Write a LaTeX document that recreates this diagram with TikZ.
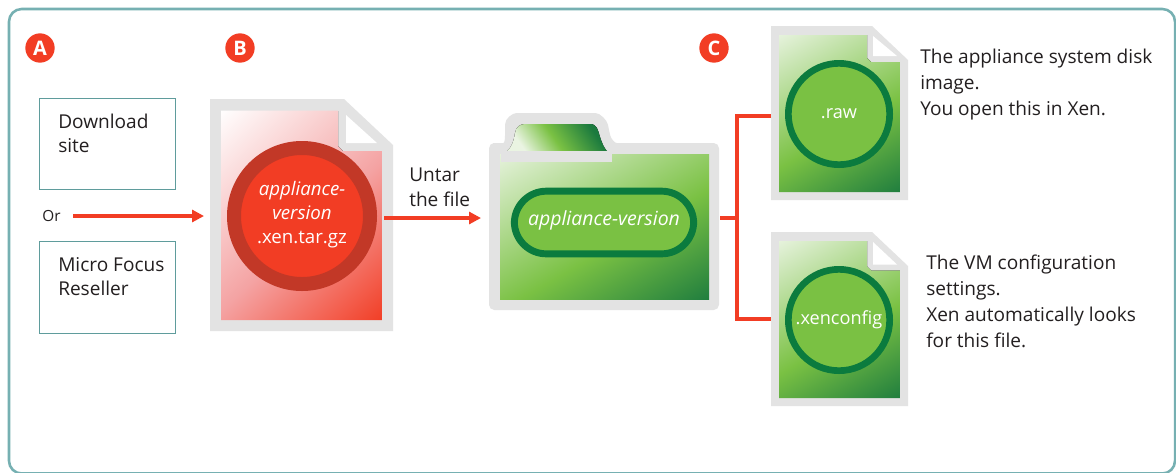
\documentclass[tikz,border=0pt]{standalone}
\usepackage{fontspec}
\setmainfont{Open Sans}
\usetikzlibrary{arrows.meta}
\definecolor{frameT}{HTML}{76B0B2}
\definecolor{boxT}{HTML}{5F9C9C}
\definecolor{redA}{HTML}{F23D24}
\definecolor{redR}{HTML}{C23827}
\definecolor{grayF}{HTML}{E3E3E3}
\definecolor{greenM}{HTML}{7AC143}
\definecolor{greenD}{HTML}{1B7A3E}
\definecolor{greenR}{HTML}{0B7B3E}
\definecolor{greenL}{HTML}{EAF4E2}
\definecolor{pinkM}{HTML}{F4A3A3}
\definecolor{txt}{HTML}{231F20}
\pgfdeclareverticalshading{gshade}{100bp}{color(0bp)=(greenD);color(14bp)=(greenD);color(44bp)=(greenM);color(86bp)=(greenL);color(100bp)=(greenL)}
\pgfdeclareverticalshading{tabshade}{100bp}{color(0bp)=(greenD);color(26bp)=(greenD);color(52bp)=(greenM);color(74bp)=(greenL);color(100bp)=(greenL)}
\pgfdeclareverticalshading{rshade}{100bp}{color(0bp)=(redA);color(14bp)=(redA);color(46bp)=(pinkM);color(86bp)=(white);color(100bp)=(white)}
\tikzset{
  x=0.75pt,y=-0.75pt,
  badge/.style={circle,fill=redA,text=white,inner sep=0pt,minimum size=22pt,font=\fontsize{15}{16}\selectfont\bfseries},
  srcbox/.style={draw=boxT,line width=0.9pt,fill=white,minimum width=102pt,minimum height=68.5pt,inner sep=0pt},
  body/.style={text=txt,align=left,font=\fontsize{14.3}{19.4}\selectfont,inner sep=0pt},
  bodyt/.style={text=txt,align=left,font=\fontsize{14.3}{18.5}\selectfont,inner sep=0pt},
  small/.style={text=txt,font=\fontsize{11.5}{13}\selectfont,inner sep=0pt},
  lbl/.style={text=white,align=center,font=\fontsize{13.6}{18}\selectfont,inner sep=0pt},
  conn/.style={draw=redA,line width=3pt},
  arr/.style={conn,-{Triangle[length=9pt,width=9pt]}},
}
\newcommand{\gfile}[4]{% y top, name, text, notch offset
  \begin{scope}[yshift=-0.75pt*#1]
  \fill[grayF] (771,0) -- (872,0) -- (908,34) -- (908,174) -- (771,174) -- cycle;
  \begin{scope}
  \path[clip] (779,9) -- (867,9) -- (867,#4-4) -- (871,#4) -- (900,#4) -- (900,166) -- (779,166) -- cycle;
  \fill[shading=gshade,shading angle=30] (779,9) rectangle (900,166);
  \end{scope}
  \fill[white] (873,10) -- (897,#4-6) -- (873,#4-6) -- cycle;
  \node[circle,fill=greenM,draw=greenR,line width=5pt,minimum size=76pt,inner sep=0pt,lbl] (#2) at (839,88) {#3};
  \end{scope}
}
\begin{document}
\begin{tikzpicture}
\useasboundingbox (0,0) rectangle (1176,472);
\fill[white] (0,0) rectangle (1176,472);
\draw[frameT,line width=1.9pt,rounded corners=9.5pt] (9,9) rectangle (1175,473.5);
% badges
\node[badge] (A) at (40,48) {A};
\node[badge] (B) at (240,48) {B};
\node[badge] (C) at (714,48) {C};
% source boxes
\node[srcbox] (dl) at (107.7,144.2) {};
\node[srcbox] (mf) at (107.7,287.5) {};
\node[bodyt,anchor=north west] at (58,113.5) {Download\\site};
\node[bodyt,anchor=north west] at (58,257) {Micro Focus\\Reseller};
\node[small] (or) at (51.5,216) {Or};
% red file
\fill[grayF] (210,99) -- (344,99) -- (393,145) -- (393,331) -- (210,331) -- cycle;
\begin{scope}
\path[clip] (221,110.5) -- (338,110.5) -- (338,146) -- (343,151) -- (382,151) -- (382,320) -- (221,320) -- cycle;
\fill[shading=rshade,shading angle=43] (221,110.5) rectangle (382,320);
\end{scope}
\fill[white] (346,115) -- (377,143) -- (346,143) -- cycle;
\node[circle,fill=redA,draw=redR,line width=10.5pt,minimum size=102pt,inner sep=0pt] (rf) at (302,216) {};
\node[lbl,font=\fontsize{14}{18}\selectfont] at (302,215) {\itshape appliance-\\\itshape version\\.xen.tar.gz};
\coordinate (a0) at (73,216);
\coordinate (a1) at (204,216);
\draw[arr] (a0) -- (a1);
% untar
\node[bodyt,anchor=north west] at (409,168) {Untar\\the file};
% folder
\fill[grayF,rounded corners=4pt] (489,310) -- (489,143) -- (498,143) .. controls (505,143) and (505,136) .. (505,130) .. controls (505,118) and (513,113) .. (522,113) -- (590,113) .. controls (600,113) and (607,120) .. (609,130) .. controls (611,139) and (615,143) .. (622,143) -- (719,143) -- (719,310) -- cycle;
\begin{scope}
\path[clip] (507,151) .. controls (512,147) and (514,140) .. (515,133) .. controls (516,127) and (520,124) .. (525,124) -- (590,124) .. controls (597,124) and (598,130) .. (600,137) .. controls (602,143) and (604,148) .. (607,151) -- cycle;
\fill[shading=tabshade,shading angle=125] (507,124) rectangle (607,151);
\end{scope}
\fill[shading=gshade,shading angle=30] (500,154) rectangle (709,299.5);
\fill[grayF] (501,151) rectangle (612,162);
\node[draw=greenR,fill=greenM,line width=5.2pt,rounded corners=24pt,minimum width=134.5pt,minimum height=47pt,inner sep=0pt] (fo) at (604,222.5) {};
\node[lbl,font=\fontsize{14.6}{18}\selectfont\itshape] at (604,220) {appliance-version};
% untar arrow
\coordinate (u0) at (384,218);
\coordinate (u1) at (481,218);
\draw[arr] (u0) -- (u1);
% green files
\gfile{26}{raw}{.raw}{36}
\gfile{232}{xc}{.xenconfig}{38.5}
\node[body,anchor=north west] at (920,49) {The appliance system disk\\image.\\You open this in Xen.};
\node[body,anchor=north west] at (926,255) {The VM configuration\\settings.\\Xen automatically looks\\for this file.};
% connectors
\coordinate (j) at (737,218);
\coordinate (fe) at (720,218);
\coordinate (re) at (771,116);
\coordinate (xe) at (771,319);
\draw[conn] (fe) -- (j);
\draw[conn,line join=miter] (re) -- (737,116) -- (737,319) -- (xe);
\end{tikzpicture}
\end{document}
